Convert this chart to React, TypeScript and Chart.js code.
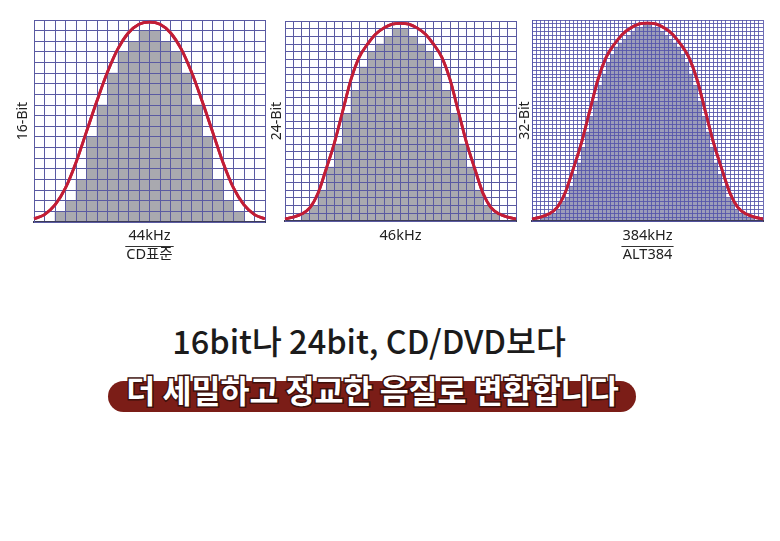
import React, { useEffect, useRef } from 'react';
import { Chart, registerables } from 'chart.js';
Chart.register(...registerables);

// ---- Panel 1: 16-Bit / 44kHz ----
const cols16 = 22;
const rows16 = 19;
const bars16 = [0, 0, 1, 2, 4, 8, 11, 14, 16, 17, 18, 18, 17, 16, 14, 11, 8, 4, 2, 1, 0, 0];
const curveX16 = [0, 1, 2, 3, 4, 5, 6, 7, 8, 9, 10, 11, 12, 13, 14, 15, 16, 17, 18, 19, 20, 21, 22];
const curve16 = [0.3, 0.7, 1.6, 3.2, 5.6, 8.5, 11.4, 14.1, 16.3, 17.8, 18.6, 18.8, 18.6, 17.8, 16.3, 14.1, 11.4, 8.5, 5.6, 3.2, 1.6, 0.7, 0.3];

// ---- Panel 2: 24-Bit / 46kHz ----
const cols24 = 28;
const rows24 = 26;
const bars24 = [0, 0, 1, 2, 4, 7, 10, 14, 17, 20, 22, 23, 24, 25, 25, 24, 23, 22, 20, 17, 14, 10, 7, 4, 2, 1, 0, 0];
const curveX24 = [0, 1, 2, 3, 4, 5, 6, 7, 8, 9, 10, 11, 12, 13, 14, 15, 16, 17, 18, 19, 20, 21, 22, 23, 24, 25, 26, 27, 28];
const curve24 = [0.26, 0.5, 0.9, 1.7, 3.6, 6.8, 10.2, 14.3, 18.4, 21.3, 23.0, 24.3, 25.1, 25.6, 25.7, 25.6, 25.1, 24.3, 23.0, 21.3, 18.4, 14.3, 10.2, 6.8, 3.6, 1.7, 0.9, 0.5, 0.26];

// ---- Panel 3: 32-Bit / 384kHz ----
const cols32 = 56;
const rows32 = 52;
const bars32 = [
  0, 0, 1, 1, 2, 2, 3, 5, 6, 9, 12, 15, 19, 23, 27, 31, 35, 38, 41, 43, 45, 46, 47, 48, 49, 50, 50, 51,
  51, 50, 50, 49, 48, 47, 46, 45, 43, 41, 38, 35, 31, 27, 23, 19, 15, 12, 9, 6, 5, 3, 2, 2, 1, 1, 0, 0,
];
const curveX32 = [0, 2, 4, 6, 8, 10, 12, 14, 16, 18, 20, 22, 24, 26, 28, 30, 32, 34, 36, 38, 40, 42, 44, 46, 48, 50, 52, 54, 56];
const curve32 = [0.5, 1.0, 1.8, 3.4, 7.2, 13.5, 20.3, 28.5, 36.6, 42.4, 45.8, 48.4, 50.0, 51.0, 51.2, 51.0, 50.0, 48.4, 45.8, 42.4, 36.6, 28.5, 20.3, 13.5, 7.2, 3.4, 1.8, 1.0, 0.5];

const headline1 = '16bit나 24bit, CD/DVD보다';
const headline2 = '더 세밀하고 정교한 음질로 변환합니다';

const FONT = "'Noto Sans', 'Noto Sans CJK KR', sans-serif";

type PanelProps = {
  left: number; top: number; width: number; height: number;
  plotLeft: number; plotRight: number; plotTop: number; plotBottom: number;
  cols: number; rows: number; bars: number[]; curveX: number[]; curveY: number[];
  yTitle: string; yTitleX: number; xTitle: string[]; xTitleY: number;
  gridColor: string; barColor: string;
};

function Panel(p: PanelProps) {
  const ref = useRef<HTMLCanvasElement>(null);
  useEffect(() => {
    if (!ref.current) return;
    const yw = p.plotLeft - p.left;
    const padRight = p.left + p.width - p.plotRight;
    const padTop = p.plotTop - p.top;
    const xh = p.top + p.height - p.plotBottom;
    const xFont = 14.5;
    const xLh = xFont * 1.3;
    const xPadBottom = p.top + p.height - p.xTitleY - xLh / 2;
    const yFont = 14;
    const yLh = yFont * 1.2;
    const yPadTop = p.yTitleX - p.left - yLh / 2;

    const redrawLine = {
      id: 'redrawLine',
      afterDraw(chart: any) {
        const meta = chart.getDatasetMeta(1);
        chart.ctx.save();
        meta.controller.draw();
        chart.ctx.restore();
      },
    };
    const rulePlugin = {
      id: 'titleRule',
      afterDraw(chart: any) {
        if (p.xTitle.length < 2) return;
        const s = chart.scales.x;
        const ctx = chart.ctx;
        ctx.save();
        ctx.font = `${xFont}px ${FONT}`;
        const w = Math.max(...p.xTitle.map((t) => ctx.measureText(t).width)) + 2;
        const cx = (s.left + s.right) / 2;
        const y = Math.round(s.bottom - xPadBottom - xLh) + 0.5;
        ctx.strokeStyle = '#333';
        ctx.lineWidth = 1;
        ctx.beginPath();
        ctx.moveTo(cx - w / 2, y);
        ctx.lineTo(cx + w / 2, y);
        ctx.stroke();
        ctx.restore();
      },
    };

    const chart = new Chart(ref.current, {
      type: 'bar',
      data: {
        datasets: [
          {
            type: 'bar',
            data: p.bars.map((v, i) => ({ x: i + 0.5, y: v })),
            backgroundColor: p.barColor,
            borderWidth: 0,
            barPercentage: 1,
            categoryPercentage: 1,
            order: 2,
          } as any,
          {
            type: 'line',
            data: p.curveX.map((x, i) => ({ x, y: p.curveY[i] })),
            borderColor: '#c21d36',
            borderWidth: 2.8,
            pointRadius: 0,
            cubicInterpolationMode: 'monotone',
            fill: false,
            order: 1,
          } as any,
        ],
      },
      options: {
        animation: false,
        responsive: false,
        maintainAspectRatio: false,
        devicePixelRatio: 1,
        layout: { padding: { left: 0, right: padRight, top: padTop, bottom: 0 } },
        plugins: { legend: { display: false }, tooltip: { enabled: false } },
        scales: {
          x: {
            type: 'linear',
            min: 0,
            max: p.cols,
            offset: false,
            ticks: { display: false, stepSize: 1 },
            grid: { offset: false, color: p.gridColor, lineWidth: 1, drawTicks: false, z: 1 },
            border: { color: '#3c3c58', width: 2, z: 1 },
            title: {
              display: true,
              text: p.xTitle,
              color: '#222',
              font: { family: FONT, size: xFont, lineHeight: 1.3 },
              padding: { top: 0, bottom: xPadBottom },
            },
            afterFit(s: any) { s.height = xh; },
          },
          y: {
            type: 'linear',
            min: 0,
            max: p.rows,
            ticks: { display: false, stepSize: 1 },
            grid: { color: p.gridColor, lineWidth: 1, drawTicks: false, z: 1 },
            border: { color: p.gridColor, width: 1, z: 1 },
            title: {
              display: true,
              text: p.yTitle,
              color: '#222',
              font: { family: FONT, size: yFont, lineHeight: 1.2 },
              padding: { top: yPadTop, bottom: 0 },
            },
            afterFit(s: any) { s.width = yw; },
          },
        },
      } as any,
      plugins: [redrawLine, rulePlugin],
    });
    return () => chart.destroy();
  }, []);
  return (
    <canvas
      ref={ref}
      width={p.width}
      height={p.height}
      style={{ position: 'absolute', left: p.left, top: p.top, width: p.width, height: p.height }}
    />
  );
}

export default function App() {
  return (
    <div style={{ position: 'absolute', left: 0, top: 0, width: 780, height: 541, background: '#fff', overflow: 'hidden' }}>
      <Panel
        left={10} top={10} width={262} height={264}
        plotLeft={34} plotRight={265} plotTop={20} plotBottom={222}
        cols={cols16} rows={rows16} bars={bars16} curveX={curveX16} curveY={curve16}
        yTitle="16-Bit" yTitleX={23} xTitle={['44kHz', 'CD표준']} xTitleY={255}
        gridColor="#5a5aa2" barColor="#a9a9af"
      />
      <Panel
        left={266} top={10} width={258} height={264}
        plotLeft={285} plotRight={516} plotTop={21} plotBottom={221}
        cols={cols24} rows={rows24} bars={bars24} curveX={curveX24} curveY={curve24}
        yTitle="24-Bit" yTitleX={277} xTitle={['46kHz']} xTitleY={236}
        gridColor="#5a5aa2" barColor="#a9a9af"
      />
      <Panel
        left={512} top={10} width={262} height={264}
        plotLeft={532} plotRight={763} plotTop={20} plotBottom={221}
        cols={cols32} rows={rows32} bars={bars32} curveX={curveX32} curveY={curve32}
        yTitle="32-Bit" yTitleX={525} xTitle={['384kHz', 'ALT384']} xTitleY={255}
        gridColor="rgba(85,85,170,0.85)" barColor="#9c9db9"
      />
      <div
        style={{
          position: 'absolute', left: 0, top: 320, width: 738, textAlign: 'center',
          fontFamily: "'Noto Sans CJK KR', 'Noto Sans', sans-serif", fontWeight: 500,
          fontSize: 32.5, lineHeight: '40px', color: '#1b1b1b', whiteSpace: 'nowrap',
        }}
      >
        {headline1}
      </div>
      <div
        style={{
          position: 'absolute', left: 108, top: 381, width: 528, height: 31,
          borderRadius: 16, background: '#7b1d17',
        }}
      />
      <div
        style={{
          position: 'absolute', left: 0, top: 369, width: 745, textAlign: 'center',
          fontFamily: "'Noto Sans CJK KR', 'Noto Sans', sans-serif", fontWeight: 700,
          fontSize: 31.5, lineHeight: '40px', color: '#fff', whiteSpace: 'nowrap',
          WebkitTextStroke: '3px #3d100b', paintOrder: 'stroke fill',
        } as any}
      >
        {headline2}
      </div>
    </div>
  );
}
